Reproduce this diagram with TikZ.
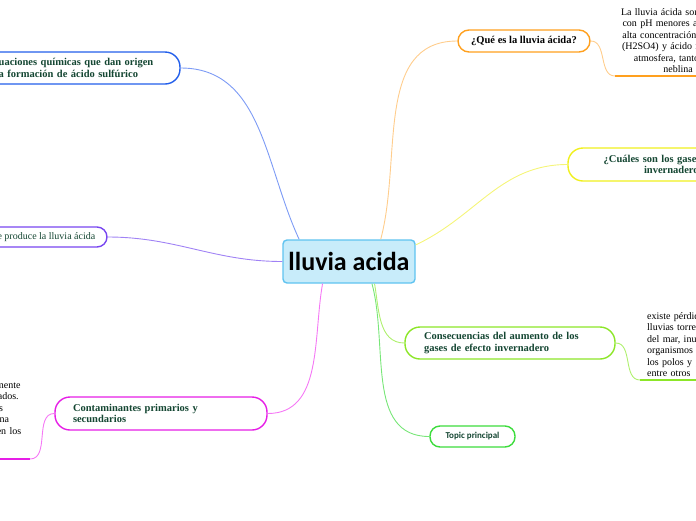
\documentclass[tikz,border=0pt]{standalone}
\usepackage{fontspec}
\setmainfont{Liberation Serif}
\newfontfamily\calfont{Carlito}
\usetikzlibrary{calc}
\definecolor{txtgreen}{RGB}{20,70,50}
\definecolor{cblue}{RGB}{35,95,235}\definecolor{lblue}{RGB}{125,155,245}
\definecolor{corange}{RGB}{255,160,30}\definecolor{lorange}{RGB}{255,205,140}
\definecolor{cyellow}{RGB}{240,240,30}\definecolor{lyellow}{RGB}{245,245,120}
\definecolor{cpurple}{RGB}{120,70,240}\definecolor{lpurple}{RGB}{160,130,245}
\definecolor{cgreen}{RGB}{140,230,40}\definecolor{lgreen}{RGB}{175,240,110}
\definecolor{ctopic}{RGB}{60,220,60}\definecolor{ltopic}{RGB}{120,230,120}
\definecolor{cmagenta}{RGB}{230,30,230}\definecolor{lmagenta}{RGB}{245,120,245}
\definecolor{mainfill}{RGB}{200,236,250}\definecolor{mainline}{RGB}{95,195,240}
\tikzset{x=1pt,y=1pt,
  topic/.style={draw,fill=white,line width=1.4pt,rounded corners=15pt,text=txtgreen,
    font=\bfseries\fontsize{10.5}{11.5}\selectfont,inner ysep=0pt,minimum height=32pt},
  note/.style={font=\fontsize{10}{11.5}\selectfont,inner xsep=7pt,inner ysep=3pt},
  branch/.style={line width=.9pt},
  underline/.style={line width=1.8pt}}
\begin{document}
\begin{tikzpicture}
\useasboundingbox (0,0) rectangle (696,-520);
\clip (0,0) rectangle (696,-520);
\node[draw=mainline,fill=mainfill,line width=1.4pt,rounded corners=4pt,minimum width=132pt,minimum height=43pt,inner sep=0pt,
  font=\calfont\bfseries\fontsize{26}{30}\selectfont] (main) at (349,-261.5) {lluvia acida};
\node[topic,draw=cblue,text width=173pt,inner xsep=20pt,align=left] (ecu) at (73.5,-68) {Ecuaciones químicas que dan origen\\a la formación de ácido sulfúrico};
\node[topic,draw=corange,text=black,minimum height=22pt,rounded corners=11pt,minimum width=132pt] (que) at (524,-41) {¿Qué es la lluvia ácida?};
\node[topic,draw=cyellow,text width=174pt,inner xsep=19pt,minimum height=33pt,align=center] (cual) at (674,-164.5) {¿Cuáles son los gases de efecto\\invernadero?};
\node[topic,draw=cpurple,font=\fontsize{10}{11.5}\selectfont,minimum height=20pt,rounded corners=10pt,minimum width=152pt] (como) at (31,-237) {Cómo se produce la lluvia ácida};
\node[topic,draw=cgreen,text width=172pt,inner xsep=19pt,align=left] (cons) at (510,-343) {Consecuencias del aumento de los\\gases de efecto invernadero};
\node[topic,draw=ctopic,minimum height=21pt,rounded corners=10pt,minimum width=85pt,inner xsep=0pt,
  font=\calfont\bfseries\fontsize{9}{11}\selectfont] (topicp) at (472.5,-436.5) {Topic principal};
\node[topic,draw=cmagenta,text width=176pt,inner xsep=18pt,minimum height=33pt,align=left] (cont) at (161,-413.5) {Contaminantes primarios y\\secundarios};
\node[note,anchor=south west,text width=118pt,inner xsep=4pt,align=center] (queinfo) at (615,-76) {La lluvia ácida son aquellas\\con pH menores a 5.6 y su\\alta concentración de ácido\\(H2SO4) y ácido nítrico en\\atmosfera, tanto en la\\neblina};
\node[note,anchor=south west,text width=120pt,align=left] (consinfo) at (640,-380) {existe pérdida de hielo,\\lluvias torrenciales,\\del mar, inundaciones,\\organismos marinos,\\los polos y glaciares,\\entre otros};
\node[note,anchor=south east,text width=96pt,inner ysep=22.5pt,align=left] (continfo) at (30,-459) {se emiten directamente\\de sus focos ubicados.\\Los contaminantes\\secundarios son una\\que se producen en los};
\foreach \n/\c in {queinfo/corange,consinfo/cgreen,continfo/cmagenta}
  \draw[underline,\c] (\n.south west) -- (\n.south east);
\foreach \a/\b/\o/\i/\c in {ecu.east/main.156/0/115/lblue,main.35/que.west/75/180/lorange,main.14/cual.west/25/180/lyellow,
  como.east/main.west/0/180/lpurple,main.-41/cons.west/-80/180/lgreen,main.-44/topicp.west/-75/180/ltopic,
  main.220/cont.east/-100/0/lmagenta,que.east/queinfo.south west/0/180/lorange,
  cons.east/consinfo.south west/0/180/lgreen,cont.west/continfo.south east/180/0/lmagenta}
  \draw[branch,\c] (\a) to[out=\o,in=\i] (\b);
\end{tikzpicture}
\end{document}
